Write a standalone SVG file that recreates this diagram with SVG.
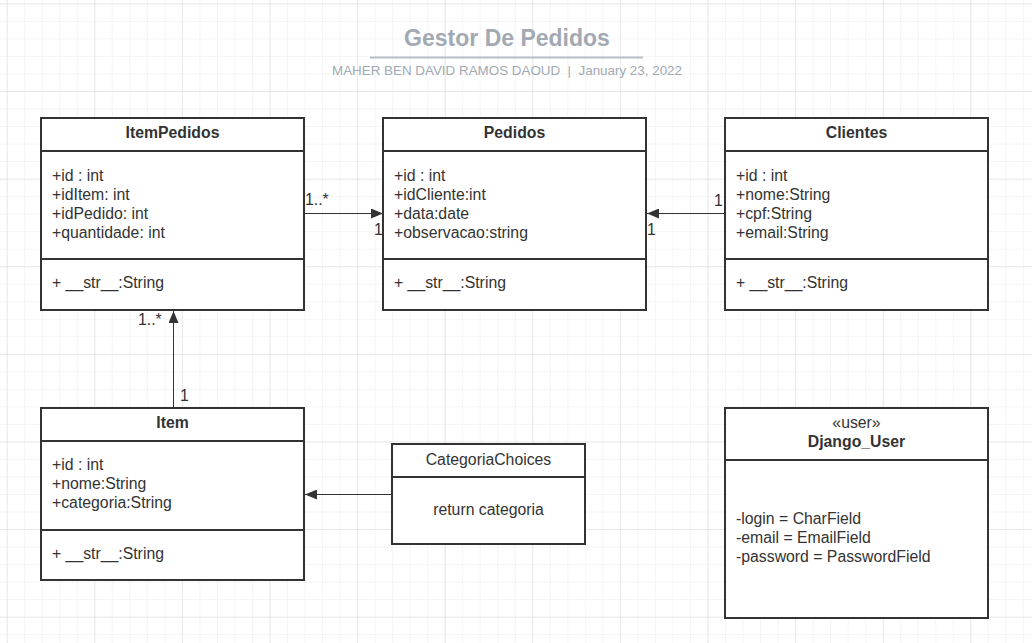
<svg xmlns="http://www.w3.org/2000/svg" width="1032" height="643" viewBox="0 0 1032 643">
<defs>
<pattern id="minor" x="6.7" y="3.4" width="17.52" height="17.52" patternUnits="userSpaceOnUse">
<path d="M0 0V17.52M0 0H17.52" fill="none" stroke="#ebebeb" stroke-width="1"/>
</pattern>
<pattern id="major" x="6.7" y="3.4" width="87.6" height="87.6" patternUnits="userSpaceOnUse">
<path d="M0 0V87.6M0 0H87.6" fill="none" stroke="#dcdcdc" stroke-width="1"/>
</pattern>
<marker id="arr" markerWidth="12" markerHeight="10" refX="12" refY="5" orient="auto" markerUnits="userSpaceOnUse">
<path d="M0 0L12 5L0 10Z" fill="#333"/>
</marker>
<style>
.box{fill:#fff;stroke:#333;stroke-width:2}
.div{stroke:#333;stroke-width:2}
.t{font-family:"Liberation Sans",Arial,sans-serif;font-size:15.8px;fill:#333}
.h{font-family:"Liberation Sans",Arial,sans-serif;font-size:15.8px;font-weight:bold;fill:#333;text-anchor:middle}
.c{text-anchor:middle}
.con{stroke:#333;stroke-width:1;fill:none;marker-end:url(#arr)}
</style>
</defs>
<rect width="1032" height="643" fill="#fff"/>
<rect width="1032" height="643" fill="url(#minor)"/>
<rect width="1032" height="643" fill="url(#major)"/>

<g id="title">
<text x="507" y="46" text-anchor="middle" font-family="Liberation Sans, Arial, sans-serif" font-size="23" font-weight="bold" fill="#a3a9b3">Gestor De Pedidos</text>
<line x1="370" y1="57.5" x2="643" y2="57.5" stroke="#b8bdc5" stroke-width="2"/>
<text x="507" y="75" text-anchor="middle" font-family="Liberation Sans, Arial, sans-serif" font-size="13.4" fill="#a3a9b3">MAHER BEN DAVID RAMOS DAOUD &#160;|&#160; January 23, 2022</text>
</g>

<g id="ItemPedidos">
<rect class="box" x="41" y="118" width="263" height="192"/>
<line class="div" x1="41" y1="151" x2="304" y2="151"/>
<line class="div" x1="41" y1="259" x2="304" y2="259"/>
<text class="h" x="172.5" y="138">ItemPedidos</text>
<text class="t" x="52" y="181">+id : int</text>
<text class="t" x="52" y="200">+idItem: int</text>
<text class="t" x="52" y="219">+idPedido: int</text>
<text class="t" x="52" y="238">+quantidade: int</text>
<text class="t" x="52" y="288">+ __str__:String</text>
</g>

<g id="Pedidos">
<rect class="box" x="383" y="118" width="263" height="192"/>
<line class="div" x1="383" y1="151" x2="646" y2="151"/>
<line class="div" x1="383" y1="259" x2="646" y2="259"/>
<text class="h" x="514.5" y="138">Pedidos</text>
<text class="t" x="394" y="181">+id : int</text>
<text class="t" x="394" y="200">+idCliente:int</text>
<text class="t" x="394" y="219">+data:date</text>
<text class="t" x="394" y="238">+observacao:string</text>
<text class="t" x="394" y="288">+ __str__:String</text>
</g>

<g id="Clientes">
<rect class="box" x="725" y="118" width="263" height="192"/>
<line class="div" x1="725" y1="151" x2="988" y2="151"/>
<line class="div" x1="725" y1="259" x2="988" y2="259"/>
<text class="h" x="856.5" y="138">Clientes</text>
<text class="t" x="736" y="181">+id : int</text>
<text class="t" x="736" y="200">+nome:String</text>
<text class="t" x="736" y="219">+cpf:String</text>
<text class="t" x="736" y="238">+email:String</text>
<text class="t" x="736" y="288">+ __str__:String</text>
</g>

<g id="Item">
<rect class="box" x="41" y="408" width="263" height="172"/>
<line class="div" x1="41" y1="441" x2="304" y2="441"/>
<line class="div" x1="41" y1="530" x2="304" y2="530"/>
<text class="h" x="172.5" y="428">Item</text>
<text class="t" x="52" y="470">+id : int</text>
<text class="t" x="52" y="489">+nome:String</text>
<text class="t" x="52" y="508">+categoria:String</text>
<text class="t" x="52" y="559">+ __str__:String</text>
</g>

<g id="CategoriaChoices">
<rect class="box" x="392" y="444" width="193" height="100"/>
<line class="div" x1="392" y1="477" x2="585" y2="477"/>
<text class="t c" x="488.5" y="465">CategoriaChoices</text>
<text class="t c" x="488.5" y="515">return categoria</text>
</g>

<g id="Django_User">
<rect class="box" x="725" y="408" width="263" height="210"/>
<line class="div" x1="725" y1="460" x2="988" y2="460"/>
<text class="t c" x="856.5" y="428">«user»</text>
<text class="h" x="856.5" y="447">Django_User</text>
<text class="t" x="736" y="524">-login = CharField</text>
<text class="t" x="736" y="543">-email = EmailField</text>
<text class="t" x="736" y="562">-password = PasswordField</text>
</g>

<g id="connectors">
<line class="con" x1="305" y1="213.5" x2="383" y2="213.5"/>
<line class="con" x1="725" y1="213.5" x2="647" y2="213.5"/>
<line class="con" x1="173.5" y1="407" x2="173.5" y2="311"/>
<line class="con" x1="392" y1="494.5" x2="305" y2="494.5"/>
<text class="t" x="305" y="205">1..*</text>
<text class="t" x="374" y="235">1</text>
<text class="t" x="714" y="206">1</text>
<text class="t" x="647" y="235">1</text>
<text class="t" x="138" y="325">1..*</text>
<text class="t" x="180" y="401">1</text>
</g>
</svg>
